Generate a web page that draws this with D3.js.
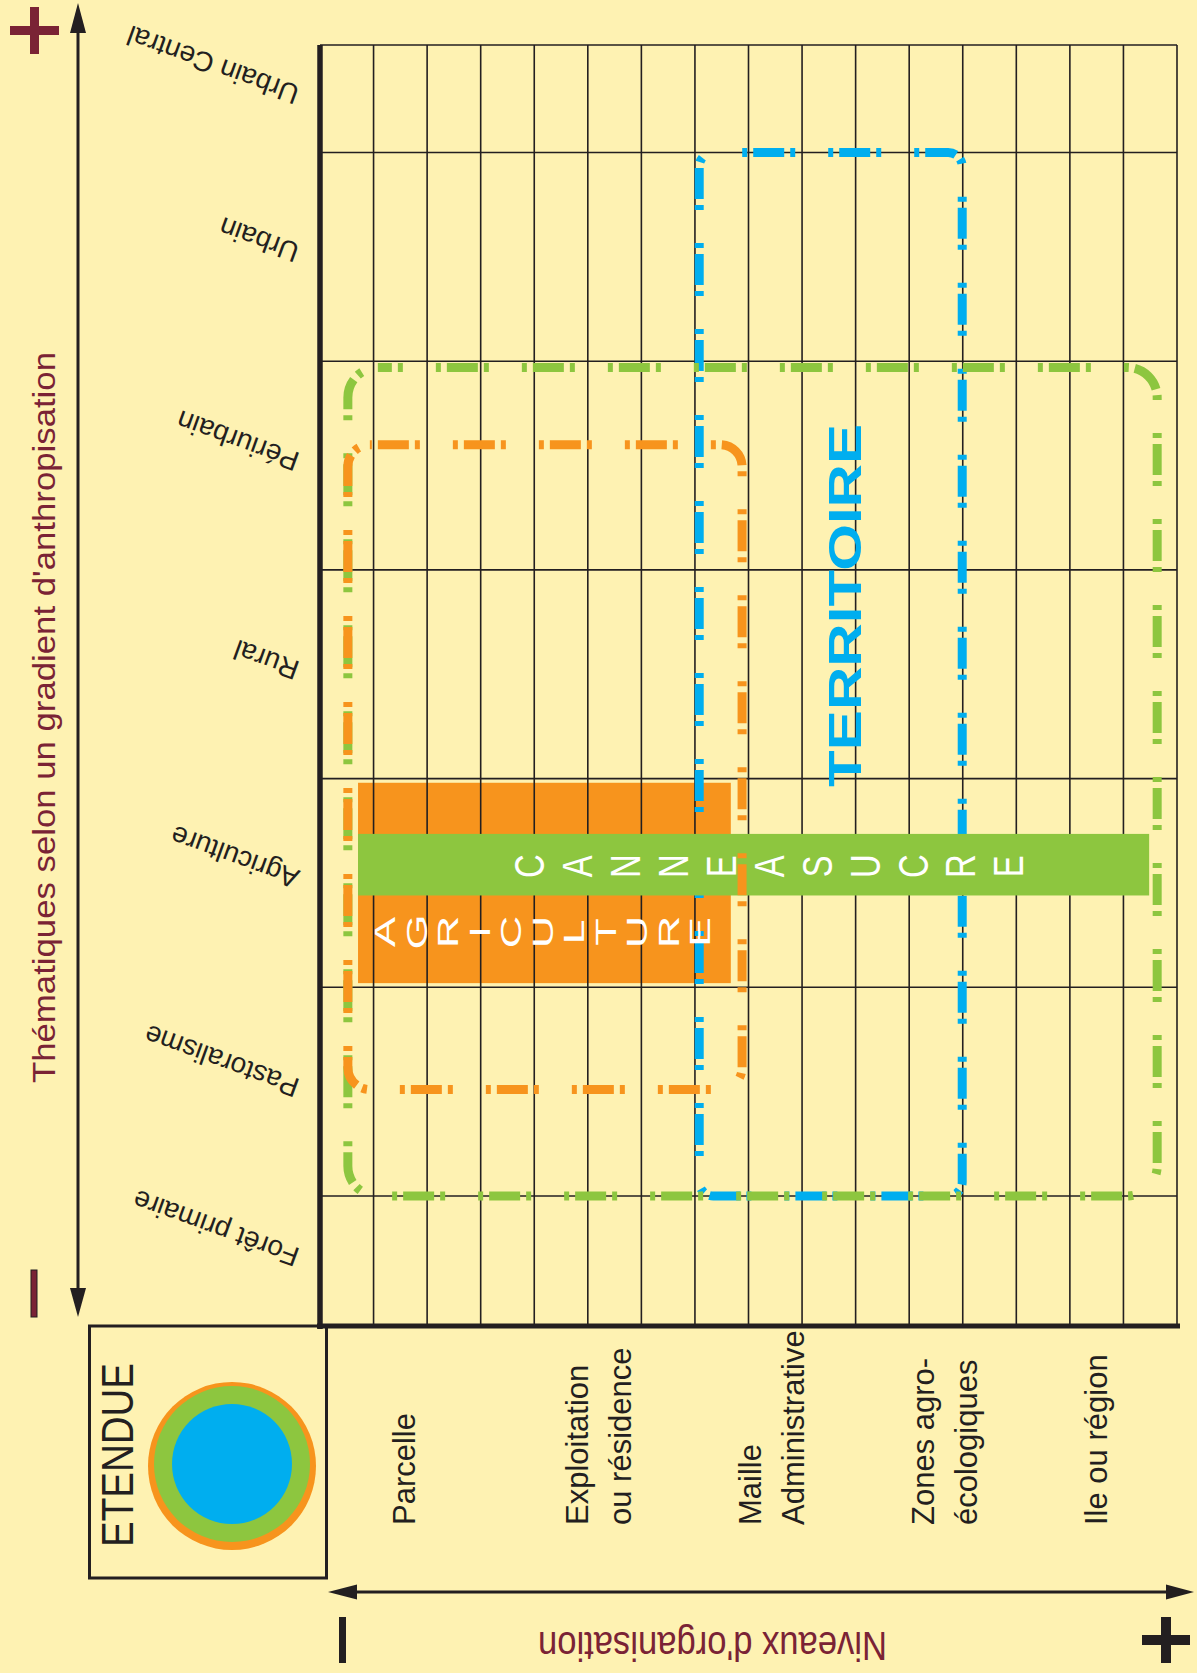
<!DOCTYPE html>
<html><head><meta charset="utf-8">
<script src="https://cdn.jsdelivr.net/npm/d3@7"></script>
<style>html,body{margin:0;padding:0;background:#FEF2B2;} svg{display:block}</style>
</head><body>
<svg id="chart" width="1197" height="1673"></svg>
<script>
// ---------------- DATA ----------------
// Thematic gradient (bottom -> top), one row per level
const gradientLevels = ["Forêt primaire","Pastoralisme","Agriculture","Rural","Périurbain","Urbain","Urbain Central"];
// Organisation levels (left -> right), multi-line labels
const orgLevels = [["Parcelle"],["Exploitation","ou résidence"],["Maille","Administrative"],["Zones agro-","écologiques"],["Ile ou région"]];
const gridColumns = 16;
// Dashed domains (extent in grid columns / gradient units)
const frameNames = ["AGRICULTURE","CANNE A SUCRE","TERRITOIRE"];
const frameCol0 = [0.52, 0.52, 7.08];
const frameCol1 = [7.88, 15.63, 11.99];
const frameLvl0 = [0.51, 0.0, 0.0];
const frameLvl1 = [3.60, 3.97, 5.0];
// Filled bands
const bandNames = ["AGRICULTURE","CANNE A SUCRE"];
const bandCol0 = [0.71, 0.71];
const bandCol1 = [7.67, 15.48];
const bandLvl0 = [1.02, 1.44];
const bandLvl1 = [1.98, 1.735];
const bandTextCol0 = [1.21, 3.92];
const bandTextCol1 = [7.09, 12.86];
const bandTextLvl = [1.265, 1.58];
const titleY = "Thématiques selon un gradient d'anthropisation";
const titleX = "Niveaux d'organisation";
const legendTitle = "ETENDUE";
const territoryLabel = "TERRITOIRE";

// ---------------- STYLE ----------------
const C = {bg:"#FEF2B2", ink:"#231F20", maroon:"#7A2335", orange:"#F7941D", green:"#8DC63F", blue:"#00AEEF"};
const frameColor = [C.orange, C.green, C.blue];
const frameRadius = [22, 30, 14];
const frameOffset = [3, 28, 57];
const FONT = "'Liberation Sans', Arial, sans-serif";

const svg = d3.select("#chart");
svg.append("rect").attr("width",1197).attr("height",1673).attr("fill",C.bg);

const x = d3.scaleLinear().domain([0, gridColumns]).range([320, 1177]);
const y = d3.scaleLinear().domain([0, 5]).range([1196, 152.5]);
const yTopLvl = 5.515, yBotLvl = -0.623;
const plotTop = y(yTopLvl), plotBottom = y(yBotLvl);

function roundRect(x0,y0,x1,y1,r){
  const p = d3.path();
  p.moveTo(x0+r,y0); p.lineTo(x1-r,y0); p.arcTo(x1,y0,x1,y0+r,r);
  p.lineTo(x1,y1-r); p.arcTo(x1,y1,x1-r,y1,r);
  p.lineTo(x0+r,y1); p.arcTo(x0,y1,x0,y1-r,r);
  p.lineTo(x0,y0+r); p.arcTo(x0,y0,x0+r,y0,r); p.closePath();
  return p.toString();
}

// orange filled band (under grid)
svg.append("rect")
  .attr("x", x(bandCol0[0])).attr("y", y(bandLvl1[0]))
  .attr("width", x(bandCol1[0]) - x(bandCol0[0])).attr("height", y(bandLvl0[0]) - y(bandLvl1[0]))
  .attr("fill", C.orange);

// grid
const grid = svg.append("g").attr("stroke", C.ink).attr("stroke-width", 1.6);
grid.selectAll("line.v").data(d3.range(1, gridColumns+1)).join("line")
  .attr("x1", d=>x(d)).attr("x2", d=>x(d)).attr("y1", plotTop).attr("y2", plotBottom);
grid.selectAll("line.h").data([yTopLvl,5,4,3,2,1,0]).join("line")
  .attr("x1", x(0)).attr("x2", x(gridColumns)).attr("y1", d=>y(d)).attr("y2", d=>y(d));
svg.append("line").attr("x1", x(0)).attr("x2", x(0)).attr("y1", plotTop).attr("y2", plotBottom+3)
  .attr("stroke", C.ink).attr("stroke-width", 5.5);
svg.append("line").attr("x1", x(0)-3).attr("x2", x(gridColumns)+3).attr("y1", plotBottom).attr("y2", plotBottom)
  .attr("stroke", C.ink).attr("stroke-width", 5);

// dashed frames
function drawFrame(i){
  svg.append("path")
    .attr("d", roundRect(x(frameCol0[i]), y(frameLvl1[i]), x(frameCol1[i]), y(frameLvl0[i]), frameRadius[i]))
    .attr("fill","none").attr("stroke", frameColor[i]).attr("stroke-width", 9)
    .attr("stroke-dasharray","5 6 31 6 5 33").attr("stroke-dashoffset", frameOffset[i]);
}
drawFrame(2);
drawFrame(1);

// green band
svg.append("rect")
  .attr("x", x(bandCol0[1])).attr("y", y(bandLvl1[1]))
  .attr("width", x(bandCol1[1]) - x(bandCol0[1])).attr("height", y(bandLvl0[1]) - y(bandLvl1[1]))
  .attr("fill", C.green);

drawFrame(0);

// band letters
const letterStyle = [{size:30, sx:1.5}, {size:42, sx:0.78}];
bandNames.forEach((name, i) => {
  const letters = name.replace(/ /g,"").split("");
  const lx = d3.scaleLinear().domain([0, letters.length-1]).range([x(bandTextCol0[i]), x(bandTextCol1[i])]);
  svg.append("g").selectAll("text").data(letters).join("text")
    .attr("transform", (d,k)=>`translate(${lx(k)},${y(bandTextLvl[i])}) rotate(-90) scale(${letterStyle[i].sx},1)`)
    .attr("text-anchor","middle").attr("dominant-baseline","central")
    .attr("font-family", FONT).attr("font-size", letterStyle[i].size).attr("fill","#fff")
    .text(d=>d);
});

// TERRITOIRE
svg.append("text")
  .attr("transform", `translate(${(x(frameCol0[2])+x(frameCol1[2]))/2 + 30},${y(2.83)}) rotate(-90)`)
  .attr("text-anchor","middle").attr("font-family", FONT).attr("font-weight","bold")
  .attr("font-size", 46).attr("fill", C.blue)
  .attr("textLength", 363).attr("lengthAdjust","spacingAndGlyphs")
  .text(territoryLabel);

// row labels (upside down, tilted)
svg.append("g").selectAll("text").data(gradientLevels).join("text")
  .attr("transform", (d,i) => {
    const lo = i===0 ? yBotLvl : i-1;
    const hi = i===gradientLevels.length-1 ? yTopLvl : i;
    const cy = (y(lo)+y(hi))/2 - 12;
    return `translate(301,${cy}) rotate(200)`;
  })
  .attr("font-family", FONT).attr("font-size", 28).attr("fill", C.ink)
  .text(d=>d);

// org labels
const band = d3.scaleBand().domain(d3.range(orgLevels.length)).range([320, 1184]);
const og = svg.append("g");
orgLevels.forEach((lines, i) => {
  lines.forEach((ln, j) => {
    og.append("text")
      .attr("transform", `translate(${band(i)+band.bandwidth()/2 + 9 + j*43},1525) rotate(-90)`)
      .attr("font-family", FONT).attr("font-size", 31).attr("fill", C.ink)
      .text(ln);
  });
});

// left axis arrow
svg.append("line").attr("x1",78).attr("x2",78).attr("y1",28).attr("y2",1292).attr("stroke",C.ink).attr("stroke-width",3);
svg.append("path").attr("d","M78,3L70,33L86,33Z").attr("fill",C.ink);
svg.append("path").attr("d","M78,1317L70,1288L86,1288Z").attr("fill",C.ink);
// bottom axis arrow
svg.append("line").attr("x1",352).attr("x2",1170).attr("y1",1592).attr("y2",1592).attr("stroke",C.ink).attr("stroke-width",3);
svg.append("path").attr("d","M328,1592L357,1584.5L357,1599.5Z").attr("fill",C.ink);
svg.append("path").attr("d","M1194,1592L1166,1584.5L1166,1599.5Z").attr("fill",C.ink);

// + / - symbols
svg.append("rect").attr("x",10).attr("y",26).attr("width",49).attr("height",9).attr("fill",C.maroon);
svg.append("rect").attr("x",30).attr("y",7).attr("width",9).attr("height",47).attr("fill",C.maroon);
svg.append("rect").attr("x",31).attr("y",1270).attr("width",6).attr("height",47).attr("fill",C.maroon).attr("stroke",C.ink).attr("stroke-width",1);
svg.append("rect").attr("x",339).attr("y",1617).attr("width",7).attr("height",46).attr("fill",C.ink);
svg.append("rect").attr("x",1142).attr("y",1635).attr("width",48).attr("height",10).attr("fill",C.ink);
svg.append("rect").attr("x",1161).attr("y",1617).attr("width",10).attr("height",46).attr("fill",C.ink);

// axis titles
svg.append("text").attr("transform","translate(55,717.5) rotate(-90)")
  .attr("text-anchor","middle").attr("font-family",FONT).attr("font-size",31).attr("fill",C.maroon)
  .attr("textLength",731).attr("lengthAdjust","spacingAndGlyphs").text(titleY);
svg.append("text").attr("transform","translate(712.5,1632) rotate(180)")
  .attr("text-anchor","middle").attr("font-family",FONT).attr("font-size",41).attr("fill",C.maroon)
  .attr("textLength",349).attr("lengthAdjust","spacingAndGlyphs").text(titleX);

// ETENDUE legend
svg.append("rect").attr("x",89.5).attr("y",1326).attr("width",237).attr("height",252)
  .attr("fill","none").attr("stroke",C.ink).attr("stroke-width",3);
svg.append("text").attr("transform","translate(133,1455) rotate(-90)")
  .attr("text-anchor","middle").attr("font-family",FONT).attr("font-size",45).attr("fill",C.ink)
  .attr("textLength",184).attr("lengthAdjust","spacingAndGlyphs").text(legendTitle);
const rings = [{c:C.orange, r:84, cy:1466},{c:C.green, r:78, cy:1464},{c:C.blue, r:60, cy:1464}];
svg.append("g").selectAll("circle").data(rings).join("circle")
  .attr("cx",232).attr("cy",d=>d.cy).attr("r",d=>d.r).attr("fill",d=>d.c);
</script>
</body></html>
